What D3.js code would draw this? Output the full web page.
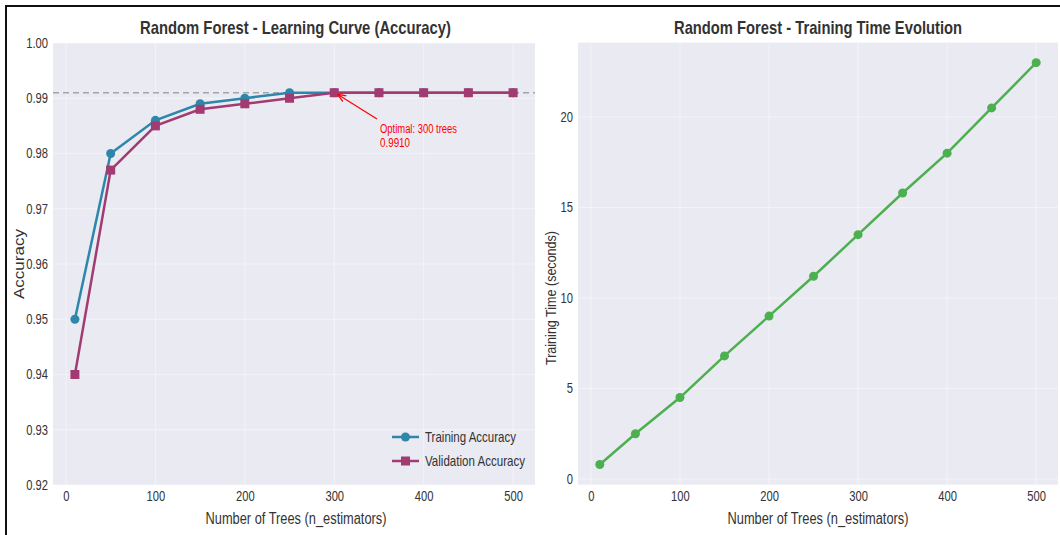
<!DOCTYPE html>
<html>
<head>
<meta charset="utf-8">
<script src="https://cdn.jsdelivr.net/npm/d3@7"></script>
<style>
  html, body { margin: 0; padding: 0; background: #ffffff; }
  svg { display: block; }
  text { font-family: "Liberation Sans Narrow", "Liberation Sans", Arial, sans-serif; fill: #333; }
</style>
</head>
<body>
<svg id="chart" width="1060" height="535"></svg>
<script>
// Number of trees evaluated
const nEstimators = [10, 50, 100, 150, 200, 250, 300, 350, 400, 450, 500];
// Accuracy per forest size
const trainAccuracy = [0.950, 0.980, 0.986, 0.989, 0.990, 0.991, 0.991, 0.991, 0.991, 0.991, 0.991];
const valAccuracy   = [0.940, 0.977, 0.985, 0.988, 0.989, 0.990, 0.991, 0.991, 0.991, 0.991, 0.991];
// Fit time in seconds per forest size
const trainTime = [0.8, 2.5, 4.5, 6.8, 9.0, 11.2, 13.5, 15.8, 18.0, 20.5, 23.0];
// Tick labels
const xTicks = [0, 100, 200, 300, 400, 500];
const accTicks = [0.92, 0.93, 0.94, 0.95, 0.96, 0.97, 0.98, 0.99, 1.00];
const timeTicks = [0, 5, 10, 15, 20];
const bestTrees = 300;
const bestAcc = 0.991;

const svg = d3.select("#chart");
const BG = "#EAEAF2";
const C_TRAIN = "#2E86AB", C_VAL = "#A23B72", C_TIME = "#4CAF50";

// outer frame (left and top edges)
svg.append("path").attr("d", "M6,535 V6 H1060").attr("fill", "none")
  .attr("stroke", "#111").attr("stroke-width", 2);

function setWidth(sel, w) {
  sel.attr("textLength", w).attr("lengthAdjust", "spacingAndGlyphs");
}
// condense text horizontally by a factor
function condense(sel, f) {
  sel.each(function () {
    const len = this.getComputedTextLength();
    d3.select(this).attr("textLength", len * f).attr("lengthAdjust", "spacingAndGlyphs");
  });
}

function panel(cfg) {
  const x = d3.scaleLinear().domain([-14.5, 524.5]).range([cfg.left, cfg.right]);
  const y = d3.scaleLinear().domain(cfg.yDomain).range([cfg.bottom, cfg.top]);
  const g = svg.append("g");
  g.append("rect").attr("x", cfg.left).attr("y", cfg.top)
    .attr("width", cfg.right - cfg.left).attr("height", cfg.bottom - cfg.top).attr("fill", BG);

  // grid
  g.append("g").selectAll("line").data(xTicks).join("line")
    .attr("x1", d => x(d)).attr("x2", d => x(d)).attr("y1", cfg.top).attr("y2", cfg.bottom)
    .attr("stroke", "#fff").attr("stroke-width", 1).attr("opacity", 0.45);
  g.append("g").selectAll("line").data(cfg.yTicks).join("line")
    .attr("y1", d => y(d)).attr("y2", d => y(d)).attr("x1", cfg.left).attr("x2", cfg.right)
    .attr("stroke", "#fff").attr("stroke-width", 1).attr("opacity", 0.45);

  // axes via d3 axis generators, styled without domain/tick lines
  const xa = g.append("g").attr("transform", `translate(0,${cfg.bottom})`)
    .call(d3.axisBottom(x).tickValues(xTicks).tickSize(0).tickPadding(6).tickFormat(d3.format("d")));
  xa.select(".domain").remove();
  xa.selectAll("text").attr("font-size", 14).attr("fill", "#333")
    .style("font-family", '"Liberation Sans", Arial, sans-serif').call(condense, 0.8);

  const ya = g.append("g").attr("transform", `translate(${cfg.left},0)`)
    .call(d3.axisLeft(y).tickValues(cfg.yTicks).tickSize(0).tickPadding(5).tickFormat(cfg.yFormat));
  ya.select(".domain").remove();
  ya.selectAll("text").attr("font-size", 14).attr("fill", "#333")
    .style("font-family", '"Liberation Sans", Arial, sans-serif').call(condense, 0.8);

  // title
  setWidth(svg.append("text").attr("x", (cfg.left + cfg.right) / 2 + cfg.titleShift).attr("y", 34)
    .attr("text-anchor", "middle").attr("font-size", 18.5).attr("font-weight", "bold").attr("fill", "#222")
    .text(cfg.title), cfg.titleW);
  // x label
  setWidth(svg.append("text").attr("x", (cfg.left + cfg.right) / 2 + cfg.xlShift).attr("y", 524)
    .attr("text-anchor", "middle").attr("font-size", 16).attr("fill", "#333")
    .text("Number of Trees (n_estimators)"), 181);
  // y label
  setWidth(svg.append("text")
    .attr("transform", `translate(${cfg.ylX},${cfg.ylY}) rotate(-90)`)
    .attr("text-anchor", "middle").attr("font-size", 15.5).attr("fill", "#333")
    .style("font-family", '"Liberation Sans", Arial, sans-serif')
    .text(cfg.yLabel), cfg.ylW);
  return { x, y, g };
}

// ---- Left: learning curve ----
const L = panel({
  left: 53, right: 535, top: 43, bottom: 485,
  yDomain: [0.92, 1.00], yTicks: accTicks, yFormat: d3.format(".2f"),
  title: "Random Forest - Learning Curve (Accuracy)", titleW: 311, titleShift: 1.5, xlShift: 2,
  yLabel: "Accuracy", ylX: 24, ylY: 264, ylW: 70
});

// optimum reference line
L.g.append("line").attr("x1", 53).attr("x2", 535)
  .attr("y1", L.y(bestAcc)).attr("y2", L.y(bestAcc))
  .attr("stroke", "#999").attr("stroke-width", 1.5).attr("stroke-dasharray", "6,4").attr("opacity", 0.85);

const trainPts = nEstimators.map((n, i) => [n, trainAccuracy[i]]);
const valPts = nEstimators.map((n, i) => [n, valAccuracy[i]]);
const lineL = d3.line().x(d => L.x(d[0])).y(d => L.y(d[1]));

L.g.append("path").datum(trainPts).attr("d", lineL).attr("fill", "none")
  .attr("stroke", C_TRAIN).attr("stroke-width", 2.5);
L.g.append("g").selectAll("circle").data(trainPts).join("circle")
  .attr("cx", d => L.x(d[0])).attr("cy", d => L.y(d[1])).attr("r", 4.5).attr("fill", C_TRAIN);

L.g.append("path").datum(valPts).attr("d", lineL).attr("fill", "none")
  .attr("stroke", C_VAL).attr("stroke-width", 2.5);
L.g.append("g").selectAll("rect").data(valPts).join("rect")
  .attr("x", d => L.x(d[0]) - 4.5).attr("y", d => L.y(d[1]) - 4.5)
  .attr("width", 9).attr("height", 9).attr("fill", C_VAL);

// annotation for optimum
const defs = svg.append("defs");
defs.append("marker").attr("id", "arrowRed").attr("viewBox", "0 0 10 10")
  .attr("refX", 9).attr("refY", 5).attr("markerWidth", 7).attr("markerHeight", 7)
  .attr("orient", "auto-start-reverse")
  .append("path").attr("d", "M0,1 L10,5 L0,9").attr("fill", "none").attr("stroke", "red").attr("stroke-width", 1.6);
const ax = L.x(bestTrees), ay = L.y(bestAcc);
L.g.append("line").attr("x1", 377).attr("y1", 119).attr("x2", ax + 4).attr("y2", ay + 2)
  .attr("stroke", "red").attr("stroke-width", 1.2).attr("marker-end", "url(#arrowRed)");
setWidth(L.g.append("text").attr("x", 380).attr("y", 133).attr("font-size", 12.5)
  .style("fill", "red").text(`Optimal: ${bestTrees} trees`), 77);
setWidth(L.g.append("text").attr("x", 380).attr("y", 147).attr("font-size", 12.5)
  .style("fill", "red").text(d3.format(".4f")(bestAcc)), 30);

// legend
const legend = L.g.append("g");
const legItems = [
  { label: "Training Accuracy", color: C_TRAIN, shape: "circle", w: 91 },
  { label: "Validation Accuracy", color: C_VAL, shape: "square", w: 100 }
];
legItems.forEach((it, i) => {
  const cy = 437 + i * 24;
  legend.append("line").attr("x1", 392).attr("x2", 419).attr("y1", cy).attr("y2", cy)
    .attr("stroke", it.color).attr("stroke-width", 2.5);
  if (it.shape === "circle") {
    legend.append("circle").attr("cx", 405.5).attr("cy", cy).attr("r", 4.5).attr("fill", it.color);
  } else {
    legend.append("rect").attr("x", 401).attr("y", cy - 4.5).attr("width", 9).attr("height", 9).attr("fill", it.color);
  }
  setWidth(legend.append("text").attr("x", 425).attr("y", cy + 5).attr("font-size", 14.5)
    .attr("fill", "#333").text(it.label), it.w);
});

// ---- Right: training time ----
const R = panel({
  left: 578, right: 1058, top: 42.6, bottom: 484.6,
  yDomain: [-0.31, 24.11], yTicks: timeTicks, yFormat: d3.format("d"),
  title: "Random Forest - Training Time Evolution", titleW: 288, titleShift: 0, xlShift: 0,
  yLabel: "Training Time (seconds)", ylX: 556, ylY: 298, ylW: 134
});
const timePts = nEstimators.map((n, i) => [n, trainTime[i]]);
R.g.append("path").datum(timePts)
  .attr("d", d3.line().x(d => R.x(d[0])).y(d => R.y(d[1])))
  .attr("fill", "none").attr("stroke", C_TIME).attr("stroke-width", 2.5);
R.g.append("g").selectAll("circle").data(timePts).join("circle")
  .attr("cx", d => R.x(d[0])).attr("cy", d => R.y(d[1])).attr("r", 4.5).attr("fill", C_TIME);
</script>
</body>
</html>
